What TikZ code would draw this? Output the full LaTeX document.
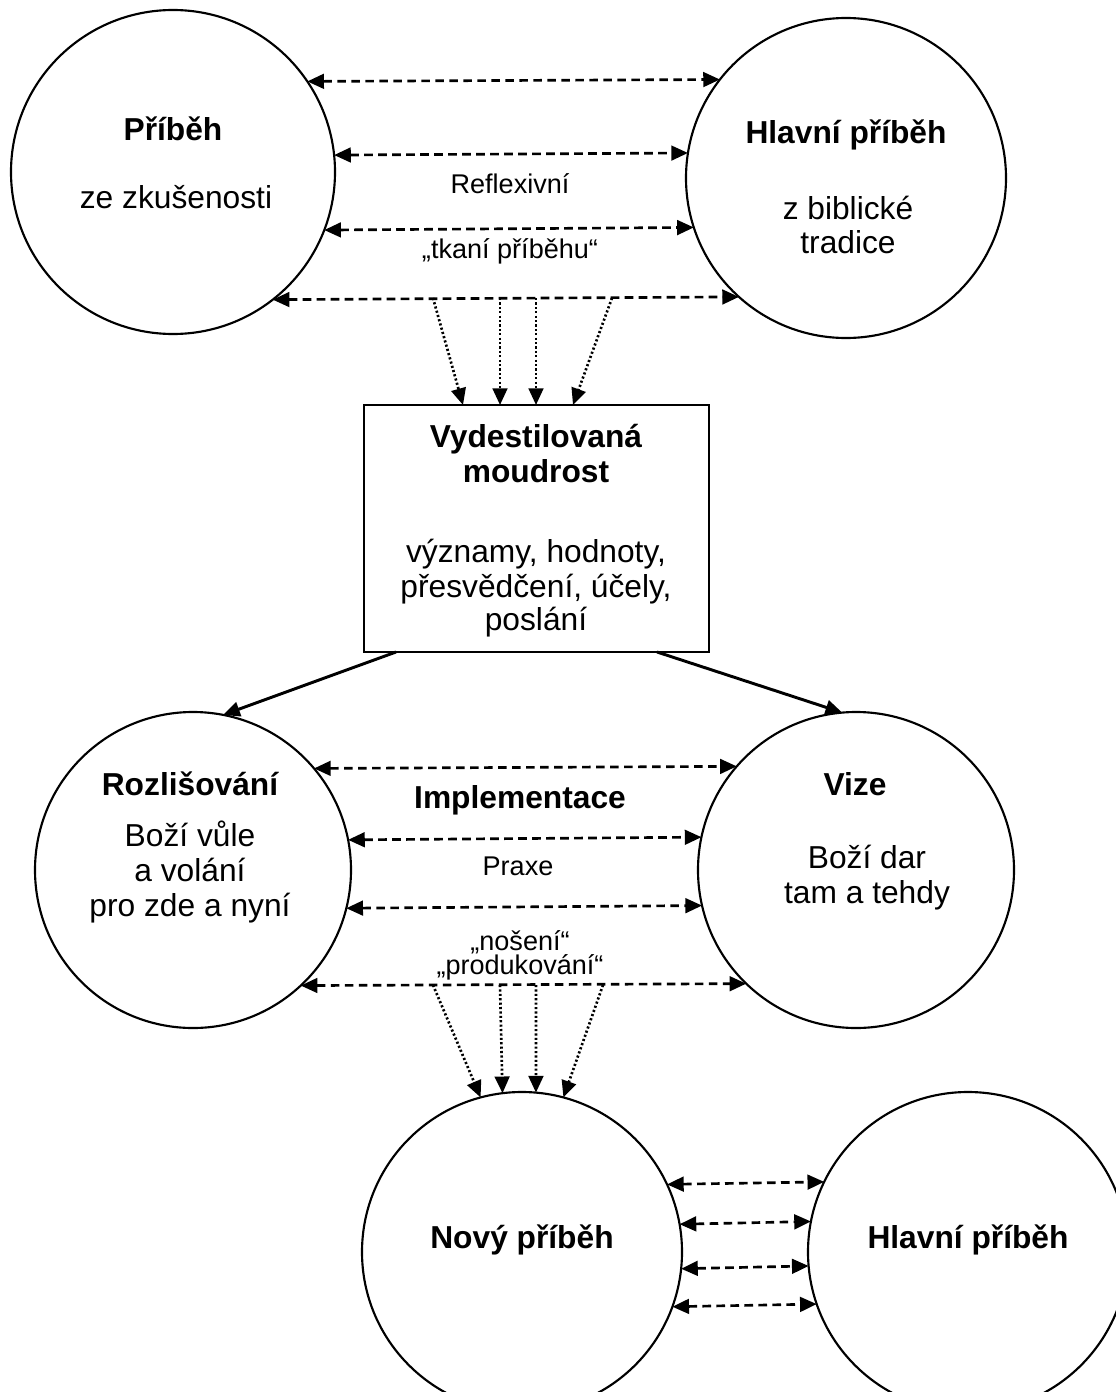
\documentclass[tikz,border=0pt]{standalone}
\usepackage{fontspec}
\setmainfont{Liberation Sans}
\usetikzlibrary{arrows.meta}
\tikzset{
  circ/.style={draw, circle, line width=1.6pt, inner sep=0pt, outer sep=0pt},
  boxst/.style={draw, rectangle, line width=1.6pt, inner sep=0pt, outer sep=0pt, minimum width=258.75pt, minimum height=185.25pt},
  bigtxt/.style={font=\fontsize{23.8}{26}\selectfont, anchor=base, inner sep=0pt},
  bigbold/.style={font=\fontsize{23.8}{26}\selectfont\bfseries, anchor=base, inner sep=0pt},
  smalltxt/.style={font=\fontsize{20.3}{22}\selectfont, anchor=base, inner sep=0pt},
  tipst/.style={},
  dbl/.style={line width=2pt, dash pattern=on 6.5pt off 4pt, {Triangle[length=12.5pt,width=11pt]}-{Triangle[length=12.5pt,width=11pt]}},
  dotarr/.style={line width=2pt, dash pattern=on 1.6pt off 1.7pt, -{Triangle[length=12.5pt,width=11pt]}},
  solidarr/.style={line width=2.2pt, -{Triangle[length=12.5pt,width=11pt]}},
}
\begin{document}
\begin{tikzpicture}[x=0.75pt,y=-0.75pt]
\useasboundingbox (0,0) rectangle (1116,1392);
\clip (0,0) rectangle (1116,1392);
\fill[white] (0,0) rectangle (1116,1392);

% shapes
\node[circ, minimum size=243pt] (c1) at (173,172) {};
\node[circ, minimum size=240pt] (c2) at (846,178) {};
\node[boxst] (b) at (536.5,528.5) {};
\node[circ, minimum size=237pt] (c3) at (193,870) {};
\node[circ, minimum size=237pt] (c4) at (856,870) {};
\node[circ, minimum size=240pt] (c5) at (522,1252) {};
\node[circ, minimum size=240pt] (c6) at (968,1252) {};

% texts
\node[bigbold] (t1) at (173,140) {Příběh};
\node[bigtxt] (t2) at (176,208) {ze zkušenosti};
\node[bigbold] (t3) at (846,143) {Hlavní příběh};
\node[bigtxt] (t4) at (848,219) {z biblické};
\node[bigtxt] (t5) at (848,253) {tradice};
\node[smalltxt] (t6) at (510,193) {Reflexivní};
\node[smalltxt] (t7) at (510,258) {„tkaní příběhu“};

\node[bigbold] (t8) at (536,447) {Vydestilovaná};
\node[bigbold] (t9) at (536,482) {moudrost};
\node[bigtxt] (t10) at (536,562) {významy, hodnoty,};
\node[bigtxt] (t11) at (536,597) {přesvědčení, účely,};
\node[bigtxt] (t12) at (536,630) {poslání};

\node[bigbold] (t13) at (190,795) {Rozlišování};
\node[bigtxt] (t14) at (190,846) {Boží vůle};
\node[bigtxt] (t15) at (190,881) {a volání};
\node[bigtxt] (t16) at (190,916) {pro zde a nyní};
\node[bigbold] (t17) at (520,808) {Implementace};
\node[smalltxt] (t18) at (518,875) {Praxe};
\node[smalltxt] (t19) at (520,950) {„nošení“};
\node[smalltxt] (t20) at (520,974) {„produkování“};
\node[bigbold] (t21) at (855,795) {Vize};
\node[bigtxt] (t22) at (867,868) {Boží dar};
\node[bigtxt] (t23) at (867,903) {tam a tehdy};

\node[bigbold] (t24) at (522,1248) {Nový příběh};
\node[bigbold] (t25) at (968,1248) {Hlavní příběh};

% top dashed arrows
\draw[dbl] (c1.34.6) -- (c2.142.2);
\draw[dbl] (c1.6) -- (c2.171.7);
\draw[dbl] (c1.339.8) -- (c2.198.2);
\draw[dbl] (c1.308.9) -- (c2.228.6);

% top dotted arrows
\coordinate (s1) at (433,298);
\coordinate (s2) at (500,298);
\coordinate (s3) at (536,298);
\coordinate (s4) at (612,298);
\draw[dotarr] (s1) -- (b.north -| 463,0);
\draw[dotarr] (s2) -- (b.north -| 500,0);
\draw[dotarr] (s3) -- (b.north -| 536,0);
\draw[dotarr] (s4) -- (b.north -| 573,0);

% solid arrows
\draw[solidarr] (b.south -| 396,0) -- (c3.79.2);
\draw[solidarr] (b.south -| 657,0) -- (c4.95.1);

% middle dashed arrows
\draw[dbl] (c3.40.2) -- (c4.139.8);
\draw[dbl] (c3.11.7) -- (c4.168.3);
\draw[dbl] (c3.346.5) -- (c4.193.5);
\draw[dbl] (c3.313.3) -- (c4.226.7);

% bottom dotted arrows
\coordinate (u1) at (433,985);
\coordinate (u2) at (500,985);
\coordinate (u3) at (536,985);
\coordinate (u4) at (603,985);
\draw[dotarr] (u1) -- (c5.105.7);
\draw[dotarr] (u2) -- (c5.97.8);
\draw[dotarr] (u3) -- (c5.85);
\draw[dotarr] (u4) -- (c5.75.6);

% bottom dashed arrows
\draw[dbl] (c5.25.5) -- (c6.154.5);
\draw[dbl] (c5.10.4) -- (c6.169.6);
\draw[dbl] (c5.354.6) -- (c6.185.4);
\draw[dbl] (c5.340.7) -- (c6.199.3);
\end{tikzpicture}
\end{document}
